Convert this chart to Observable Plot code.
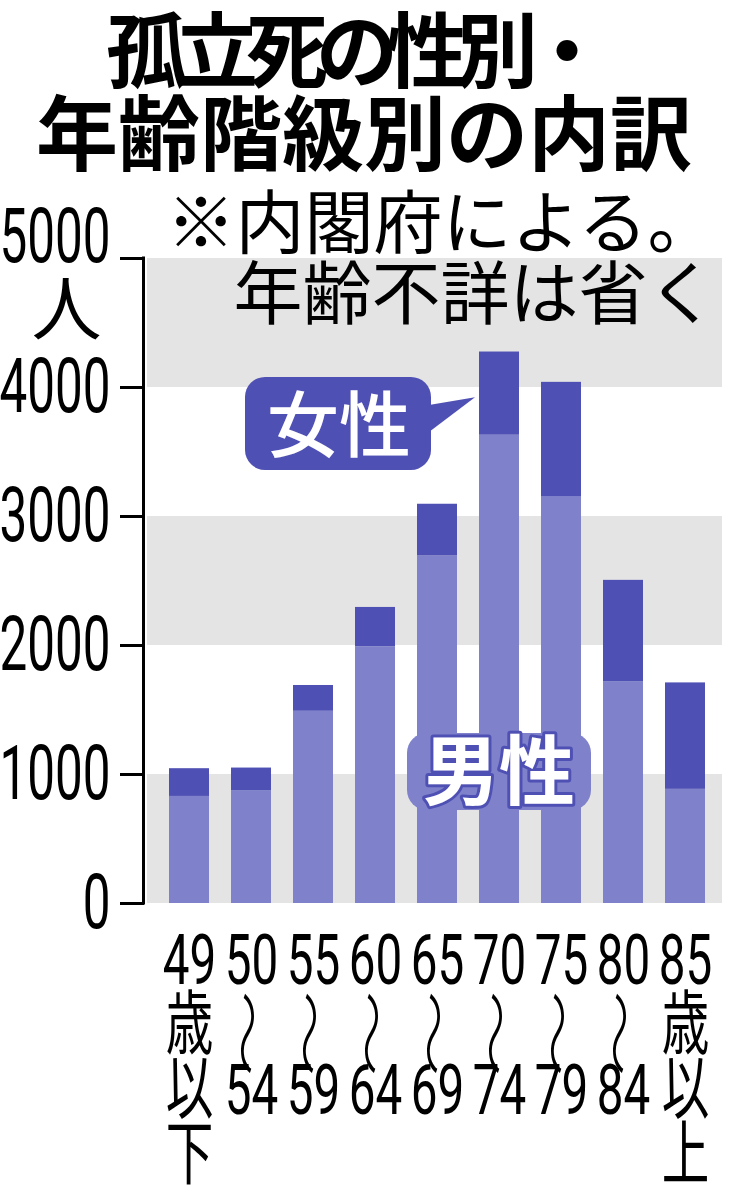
<!DOCTYPE html>
<html><head><meta charset="utf-8">
<script src="https://cdn.jsdelivr.net/npm/d3@7"></script>
<script src="https://cdn.jsdelivr.net/npm/@observablehq/plot@0.6"></script>
<style>
html,body{margin:0;padding:0;background:#fff;}
body{width:731px;height:1200px;overflow:hidden;}
#title{height:180px;box-sizing:border-box;padding-top:4px;font-family:"Noto Sans CJK JP",sans-serif;font-weight:700;font-size:82px;line-height:83px;color:#000;text-align:left;white-space:nowrap;}
#title .l1{padding-left:106px;letter-spacing:-12px;}
#title .l2{padding-left:36px;}
#chart svg{display:block;overflow:visible;}
</style></head><body>
<div id="title"><div class="l1">孤立死の性別・</div><div class="l2">年齢階級別の内訳</div></div>
<div id="chart"></div>
<script>
// ---- data ----
const ageGroups = ["49歳以下","50〜54","55〜59","60〜64","65〜69","70〜74","75〜79","80〜84","85歳以上"];
// middle line of the range labels is the "〜" drawn separately (rotated), so it is left blank here
const xTickLabels = ["49\n歳\n以\n下","50\n　\n54","55\n　\n59","60\n　\n64","65\n　\n69","70\n　\n74","75\n　\n79","80\n　\n84","85\n歳\n以\n上"];
const rangeGroups = ["50〜54","55〜59","60〜64","65〜69","70〜74","75〜79","80〜84"];
const waveMark = "〜";
const maleValues   = [830, 875, 1490, 1990, 2695, 3630, 3155, 1720, 885];
const femaleValues = [215, 175, 200, 305, 400, 645, 885, 785, 825];
const seriesNames = ["男性", "女性"];
const yTicks = [0, 1000, 2000, 3000, 4000];
const yTopTick = [5000];
const grayBands = [[0, 1000], [2000, 3000], [4000, 5000]];
const noteLines = ["※内閣府による。", "年齢不詳は省く"];
const unitLabel = ["人"];

// ---- styles ----
const maleColor = "#7f81cb";
const femaleColor = "#4f50b4";
const bandColor = "#e4e4e4";
const cjk = "'Noto Sans CJK JP', sans-serif";
const numFont = "Roboto, 'Noto Sans CJK JP', 'DejaVu Sans', sans-serif";

const rows = [];
ageGroups.forEach((a, i) => {
  rows.push({age: a, sex: seriesNames[0], value: maleValues[i]});
  rows.push({age: a, sex: seriesNames[1], value: femaleValues[i]});
});
const bands = grayBands.map(([lo, hi]) => ({lo, hi}));
const tickMap = new Map(ageGroups.map((a, i) => [a, xTickLabels[i]]));

function decorations(index, scales, values, dim) {
  const g = d3.create("svg:g");
  const x = scales.x, y = scales.y, bw = x.bandwidth();
  // axis vertical line
  g.append("line")
    .attr("x1", dim.marginLeft - 3.5).attr("x2", dim.marginLeft - 3.5)
    .attr("y1", y(5000) - 1.5).attr("y2", y(0) + 1.5)
    .attr("stroke", "#000").attr("stroke-width", 3);
  // female callout
  const fx = x(ageGroups[5]);
  const ty = y(3920);
  const bx0 = fx - 234, bx1 = fx - 48, by0 = y(4078), by1 = y(3357);
  g.append("path")
    .attr("d", `M${bx1 - 2},${y(3860)} L${fx - 4},${ty} L${bx1 - 2},${y(3651)} Z`)
    .attr("fill", femaleColor);
  g.append("rect")
    .attr("x", bx0).attr("y", by0).attr("width", bx1 - bx0).attr("height", by1 - by0)
    .attr("rx", 20).attr("fill", femaleColor);
  g.append("text")
    .attr("x", (bx0 + bx1) / 2 + 1).attr("y", (by0 + by1) / 2 + 2)
    .attr("dy", "0.36em").attr("text-anchor", "middle")
    .attr("font-family", cjk).attr("font-weight", 500).attr("font-size", 72)
    .attr("fill", "#fff").text(seriesNames[1]);
  // male callout
  const mx0 = x(ageGroups[4]) - 10, mx1 = x(ageGroups[6]) + bw + 10;
  const my0 = y(1318), my1 = y(721);
  g.append("rect")
    .attr("x", mx0).attr("y", my0).attr("width", mx1 - mx0).attr("height", my1 - my0)
    .attr("rx", 20).attr("fill", maleColor);
  g.append("text")
    .attr("x", (mx0 + mx1) / 2).attr("y", (my0 + my1) / 2)
    .attr("dy", "0.36em").attr("text-anchor", "middle")
    .attr("font-family", cjk).attr("font-weight", 700).attr("font-size", 76)
    .attr("fill", "#fff").attr("stroke", femaleColor).attr("stroke-width", 6)
    .attr("stroke-linejoin", "round").attr("paint-order", "stroke")
    .text(seriesNames[0]);
  return g.node();
}

const chart = Plot.plot({
  width: 731,
  height: 1020,
  marginLeft: 147,
  marginRight: 9,
  marginTop: 78,
  marginBottom: 297,
  style: {fontFamily: numFont, color: "#000", background: "transparent", overflow: "visible"},
  x: {domain: ageGroups, range: [152, 722], paddingInner: 0.348, paddingOuter: 0.2, align: 0.5, axis: null},
  y: {domain: [0, 5000], axis: null},
  color: {domain: seriesNames, range: [maleColor, femaleColor]},
  marks: [
    Plot.rect(bands, {y1: "lo", y2: "hi", fill: bandColor}),
    Plot.barY(rows, {x: "age", y: "value", fill: "sex", order: seriesNames}),
    Plot.axisY(yTicks, {anchor: "left", tickSize: 24, tickPadding: 10, strokeWidth: 3, dx: -3, fontSize: 76, label: null, tickFormat: d => String(d)}),
    Plot.axisY(yTopTick, {anchor: "left", tickSize: 24, tickPadding: 10, strokeWidth: 3, dx: -3, fontSize: 76, label: null, tickFormat: d => String(d)}),
    Plot.axisX({anchor: "bottom", tickSize: 0, tickPadding: 34, fontSize: 70, lineHeight: 0.93, label: null, tickFormat: d => tickMap.get(d)}),
    Plot.text(rangeGroups, {x: d => d, text: () => waveMark, rotate: 90, frameAnchor: "bottom", dy: 130, fontSize: 60, fontWeight: 300, fontFamily: cjk, textAnchor: "middle", lineAnchor: "middle"}),
    Plot.text(unitLabel, {text: d => d, frameAnchor: "top-left", dx: -81, dy: 54, fontSize: 70, fontFamily: cjk, textAnchor: "middle", lineAnchor: "middle"}),
    Plot.text([noteLines.join("\n")], {text: d => d, frameAnchor: "top-right", dx: -6, dy: 2, fontSize: 69, lineHeight: 1.04, fontFamily: cjk, textAnchor: "end", lineAnchor: "middle"}),
    decorations
  ]
});
document.getElementById("chart").appendChild(chart);

// shift the 5000 label up (label sits above its tick in the reference)
const yLabelGroups = chart.querySelectorAll('g[aria-label="y-axis tick label"]');
if (yLabelGroups.length > 1) {
  const last = yLabelGroups[yLabelGroups.length - 1];
  last.setAttribute("transform", (last.getAttribute("transform") || "") + " translate(0,-21)");
}
// condensed numerals
function squeezeEl(t, sx, sy = 1, pre = "") {
  let tr = t.getAttribute("transform") || "";
  const x = t.getAttribute("x");
  if (x !== null && !String(x).includes("em")) { tr += ` translate(${x},0)`; t.removeAttribute("x"); }
  t.setAttribute("transform", tr + pre + ` scale(${sx},${sy})`);
}
chart.querySelectorAll('g[aria-label="y-axis tick label"] > text').forEach(t => squeezeEl(t, 0.65));
chart.querySelectorAll('g[aria-label="x-axis tick label"] > text').forEach(t => squeezeEl(t, 0.68));
// stretch the rotated wave dash so it is tall and narrow like the reference
chart.querySelectorAll('text').forEach(t => { if (t.textContent === waveMark) squeezeEl(t, 1.45, 0.85, " translate(0,7)"); });
</script>
</body></html>
